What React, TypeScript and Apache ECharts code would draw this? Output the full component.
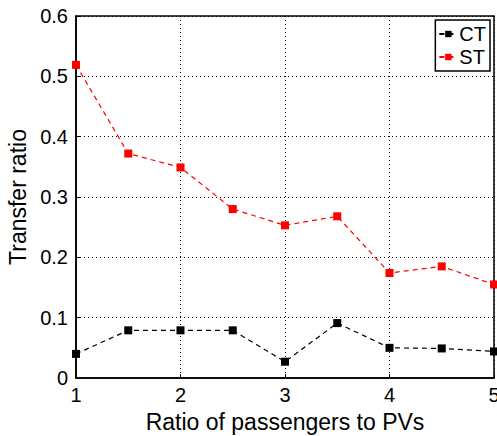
import React, { useEffect, useRef } from "react";
import * as echarts from "echarts";

const xValues = [1, 1.5, 2, 2.5, 3, 3.5, 4, 4.5, 5];
const ctValues = [0.04, 0.079, 0.079, 0.079, 0.027, 0.091, 0.05, 0.049, 0.044];
const stValues = [0.519, 0.372, 0.349, 0.28, 0.253, 0.268, 0.174, 0.185, 0.155];
const seriesNames = ["CT", "ST"];

const FONT = "'Liberation Sans', Arial, Helvetica, sans-serif";

export default function App() {
  const ref = useRef<HTMLDivElement>(null);
  useEffect(() => {
    if (!ref.current) return;
    const chart = echarts.init(ref.current, undefined, { renderer: "svg" });
    const mk = (vals: number[]) => xValues.map((x, i) => [x, vals[i]]);
    chart.setOption({
      animation: false,
      backgroundColor: "#fff",
      textStyle: { fontFamily: FONT },
      grid: {
        left: 76,
        right: 3,
        top: 16,
        bottom: 58,
        containLabel: false,
        outerBoundsMode: "none",
        show: true,
        borderColor: "#000",
        borderWidth: 1.5,
        backgroundColor: "transparent",
      },
      legend: {
        orient: "vertical",
        right: 7,
        top: 20,
        padding: [4, 4, 4, 3],
        itemGap: 3,
        itemWidth: 18,
        itemHeight: 8,
        borderColor: "#000",
        borderWidth: 1.5,
        backgroundColor: "#fff",
        textStyle: { fontSize: 20, color: "#000", fontFamily: FONT, padding: [0, 0, 0, -3] },
        data: seriesNames,
      },
      xAxis: {
        type: "value",
        min: 1,
        max: 5,
        interval: 1,
        name: "Ratio of passengers to PVs",
        nameLocation: "middle",
        nameGap: 32,
        nameTextStyle: { fontSize: 23, color: "#000", fontFamily: FONT },
        axisLine: { show: true, lineStyle: { color: "#000", width: 1.5 } },
        axisTick: { show: true, inside: true, length: 4, lineStyle: { color: "#000" } },
        axisLabel: { fontSize: 20, color: "#000", margin: 7, fontFamily: FONT, hideOverlap: false },
        splitLine: { show: true, lineStyle: { color: "#000", type: [1, 3], width: 1 } },
      },
      yAxis: {
        type: "value",
        min: 0,
        max: 0.6,
        interval: 0.1,
        name: "Transfer ratio",
        nameLocation: "middle",
        nameGap: 42,
        nameTextStyle: { fontSize: 23, color: "#000", fontFamily: FONT },
        axisLine: { show: true, lineStyle: { color: "#000", width: 1.5 } },
        axisTick: { show: true, inside: true, length: 4, lineStyle: { color: "#000" } },
        axisLabel: {
          fontSize: 20,
          color: "#000",
          margin: 8,
          fontFamily: FONT,
          formatter: (v: number) => String(Math.round(v * 10) / 10),
        },
        splitLine: { show: true, lineStyle: { color: "#000", type: [1, 3], width: 1 } },
      },
      series: [
        {
          name: seriesNames[0],
          type: "line",
          data: mk(ctValues),
          symbol: "rect",
          symbolSize: 8,
          color: "#000",
          lineStyle: { color: "#000", width: 1.2, type: [5, 4] },
          itemStyle: { color: "#000" },
        },
        {
          name: seriesNames[1],
          type: "line",
          data: mk(stValues),
          symbol: "rect",
          symbolSize: 8,
          color: "#ff0000",
          lineStyle: { color: "#ff0000", width: 1.2, type: [5, 4] },
          itemStyle: { color: "#ff0000" },
        },
      ],
    });
    return () => chart.dispose();
  }, []);
  return <div ref={ref} style={{ width: 497, height: 436, position: "absolute", left: 0, top: 0 }} />;
}
